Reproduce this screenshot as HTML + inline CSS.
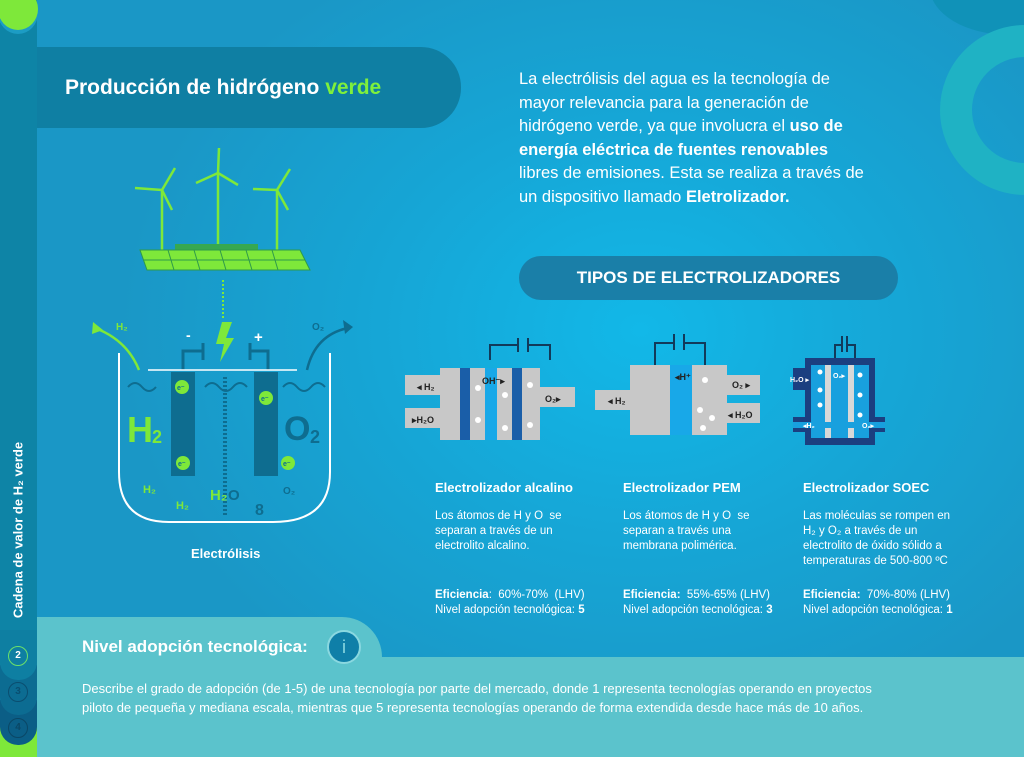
<!DOCTYPE html>
<html><head><meta charset="utf-8"><style>
*{margin:0;padding:0;box-sizing:border-box}
body{width:1024px;height:757px;overflow:hidden;position:relative;font-family:"Liberation Sans",sans-serif;color:#fff;
background:radial-gradient(ellipse 520px 420px at 640px 330px,#12b8e8 0%,#16a6d6 50%,#1a97c6 100%);}
.abs{position:absolute}
.b{font-weight:bold}
.sm{font-size:11.5px;line-height:15px}
</style></head><body>
<!-- top right shapes -->
<div class="abs" style="left:930px;top:-60px;width:160px;height:95px;border-radius:50%;background:#1092b8"></div>
<div class="abs" style="left:940px;top:25px;width:170px;height:170px;border-radius:50%;border:32px solid #1fb2c4"></div>
<!-- sidebar -->
<div class="abs" style="left:0;top:0;width:37px;height:757px;background:#0e84a6"></div>
<div class="abs" style="left:-2px;top:-12px;width:40px;height:42px;border-radius:50%;background:#7ee83a;box-shadow:0 4px 0 #1c9cc4"></div>
<div class="abs" style="left:0;top:725px;width:37px;height:32px;background:#7ee83a"></div>
<div class="abs" style="left:0;top:700px;width:37px;height:45px;border-radius:0 0 18px 18px;background:#0b5e86"></div>
<div class="abs" style="left:0;top:665px;width:37px;height:50px;border-radius:0 0 18px 18px;background:#0c6c92"></div>
<div class="abs" style="left:0;top:630px;width:37px;height:50px;border-radius:0 0 18px 18px;background:#0e7fa2"></div>
<div class="abs" style="left:8px;top:646px;width:20px;height:20px;border-radius:50%;border:1.5px solid #6be06a;font-size:10px;text-align:center;line-height:17px;font-weight:bold">2</div>
<div class="abs" style="left:8px;top:682px;width:20px;height:20px;border-radius:50%;border:1.5px solid #0a4e70;color:#0a4e70;font-size:10px;text-align:center;line-height:17px;font-weight:bold">3</div>
<div class="abs" style="left:8px;top:718px;width:20px;height:20px;border-radius:50%;border:1.5px solid #0a4766;color:#0a4766;font-size:10px;text-align:center;line-height:17px;font-weight:bold">4</div>
<div class="abs b" style="left:18px;top:530px;transform:translate(-50%,-50%) rotate(-90deg);white-space:nowrap;font-size:13px">Cadena de valor de H₂ verde</div>
<!-- title pill -->
<div class="abs" style="left:37px;top:47px;width:424px;height:81px;background:#0f7fa3;border-radius:0 40px 40px 0"></div>
<div class="abs b" style="left:65px;top:76px;font-size:21px">Producción de hidrógeno <span style="color:#7ef03c">verde</span></div>
<!-- right text -->
<div class="abs" style="left:519px;top:68px;width:420px;font-size:16.5px;line-height:23.5px;white-space:nowrap">La electrólisis del agua es la tecnología de<br>mayor relevancia para la generación de<br>hidrógeno verde, ya que involucra el <b>uso de</b><br><b>energía eléctrica de fuentes renovables</b><br>libres de emisiones. Esta se realiza a través de<br>un dispositivo llamado <b>Eletrolizador.</b></div>
<div class="abs b" style="left:519px;top:256px;width:379px;height:44px;border-radius:22px;background:#1a7fa8;text-align:center;line-height:44px;font-size:17px">TIPOS DE ELECTROLIZADORES</div>
<!-- left illustration -->
<svg class="abs" style="left:0;top:0" width="420" height="580">
 <g stroke="#7ee83a" stroke-width="2.5" fill="none">
  <line x1="162" y1="250" x2="162" y2="190"/><line x1="162" y1="190" x2="135" y2="188"/><line x1="162" y1="190" x2="175" y2="168"/><line x1="162" y1="190" x2="172" y2="210"/>
  <line x1="218" y1="245" x2="218" y2="173"/><line x1="218" y1="173" x2="196" y2="183"/><line x1="218" y1="173" x2="219" y2="148"/><line x1="218" y1="173" x2="238" y2="185"/>
  <line x1="277" y1="250" x2="277" y2="190"/><line x1="277" y1="190" x2="253" y2="189"/><line x1="277" y1="190" x2="290" y2="169"/><line x1="277" y1="190" x2="288" y2="210"/>
 </g>
 <polygon points="175,244 258,244 258,252 175,252" fill="#37a850"/>
 <polygon points="140,250 300,250 310,270 147,270" fill="#7ee83a" stroke="#2f9a4a" stroke-width="1"/>
 <g stroke="#2f9a4a" stroke-width="1"><line x1="168" y1="250" x2="174" y2="270"/><line x1="194" y1="250" x2="200" y2="270"/><line x1="220" y1="250" x2="226" y2="270"/><line x1="246" y1="250" x2="252" y2="270"/><line x1="272" y1="250" x2="278" y2="270"/><line x1="143" y1="260" x2="305" y2="260"/></g>
 <line x1="223" y1="280" x2="223" y2="318" stroke="#7ee83a" stroke-width="2" stroke-dasharray="2,2"/>
 <polygon points="222,322 232,322 226,338 234,338 220,362 224,344 216,344" fill="#7ee83a"/>
 <text x="186" y="340" font-size="14" font-weight="bold" fill="#fff">-</text><text x="254" y="342" font-size="15" font-weight="bold" fill="#fff">+</text>
 <path d="M183 370 V351 H203 M203 343 V360 M250 343 V360 M250 351 H268 V370" stroke="#0e6d90" stroke-width="3" fill="none"/>
 <line x1="148" y1="370" x2="297" y2="370" stroke="#fff" stroke-width="1.5"/>
 <path d="M119 353 V472 Q119 522 169 522 H273 Q330 522 330 472 V353" stroke="#fff" stroke-width="2" fill="none"/>
 <path d="M139 370 Q127 340 95 328" stroke="#7ee83a" stroke-width="2.5" fill="none"/><polygon points="93,322 103,330 92,334" fill="#7ee83a"/>
 <path d="M307 370 Q315 335 348 328" stroke="#0e6d90" stroke-width="2.5" fill="none"/><polygon points="353,327 343,320 345,334" fill="#0e6d90"/>
 <text x="116" y="330" font-size="10" font-weight="bold" fill="#7ee83a">H₂</text><text x="312" y="330" font-size="10" font-weight="bold" fill="#0e6d90">O₂</text>
 <rect x="171" y="372" width="24" height="104" fill="#0e6d90"/><rect x="254" y="372" width="24" height="104" fill="#0e6d90"/>
 <line x1="225" y1="377" x2="225" y2="517" stroke="#0e6d90" stroke-width="4" stroke-dasharray="2,2"/>
 <g stroke="#0e6d90" stroke-width="2" fill="none"><path d="M128 387 q7 -8 14 0 q7 8 14 0"/><path d="M205 387 q7 -8 14 0 q7 8 14 0 q7 -8 14 0"/><path d="M283 387 q7 -8 14 0 q7 8 14 0 q7 -8 14 0"/></g>
 <g fill="#7ee83a"><circle cx="182" cy="387" r="7"/><circle cx="266" cy="398" r="7"/><circle cx="183" cy="463" r="7"/><circle cx="288" cy="463" r="7"/></g>
 <g font-size="7" font-weight="bold" fill="#0e6d90"><text x="177" y="390">e⁻</text><text x="261" y="401">e⁻</text><text x="178" y="466">e⁻</text><text x="283" y="466">e⁻</text></g>
 <text x="127" y="442" font-size="36" font-weight="bold" fill="#7ee83a">H</text><text x="152" y="443" font-size="18" font-weight="bold" fill="#7ee83a">2</text>
 <text x="284" y="440" font-size="34" font-weight="bold" fill="#0e6d90">O</text><text x="310" y="443" font-size="18" font-weight="bold" fill="#0e6d90">2</text>
 <g font-size="11" font-weight="bold" fill="#7ee83a"><text x="143" y="493">H₂</text><text x="176" y="509">H₂</text><text x="210" y="500" font-size="15">H₂</text></g>
 <text x="228" y="500" font-size="15" font-weight="bold" fill="#0e6d90">O</text>
 <text x="283" y="494" font-size="10" font-weight="bold" fill="#0e6d90">O₂</text>
 <text x="255" y="515" font-size="16" font-weight="bold" fill="#0e6d90">8</text>
 <text x="191" y="558" font-size="13" font-weight="bold" fill="#fff">Electrólisis</text>
</svg>
<!-- electrolyzers -->
<svg class="abs" style="left:400px;top:320px" width="560" height="130" font-family="Liberation Sans" font-weight="bold">
 <path d="M90 40 V25 H118 M118 18 V32 M128 18 V32 M128 25 H150 V40" stroke="#123a5a" stroke-width="2" fill="none"/>
 <rect x="5" y="55" width="40" height="20" fill="#c8c8c8"/><rect x="5" y="88" width="40" height="20" fill="#c8c8c8"/>
 <rect x="40" y="48" width="100" height="72" fill="#c8c8c8"/><rect x="135" y="67" width="40" height="20" fill="#c8c8c8"/>
 <rect x="60" y="48" width="10" height="72" fill="#1a5ea8"/><rect x="112" y="48" width="10" height="72" fill="#1a5ea8"/><rect x="85" y="48" width="12" height="72" fill="#18a8e8"/>
 <text x="17" y="70" font-size="9" fill="#222">◂ H₂</text><text x="12" y="103" font-size="9" fill="#222">▸H₂O</text><text x="82" y="64" font-size="9" fill="#222">OH⁻▸</text><text x="145" y="82" font-size="9" fill="#222">O₂▸</text>
 <path d="M255 45 V23 H274 M274 14 V30 M284 14 V30 M284 23 H305 V45" stroke="#123a5a" stroke-width="2" fill="none"/>
 <rect x="195" y="70" width="40" height="20" fill="#c8c8c8"/><rect x="230" y="45" width="40" height="70" fill="#c8c8c8"/><rect x="270" y="45" width="22" height="70" fill="#18a8e8"/><rect x="292" y="45" width="35" height="70" fill="#c8c8c8"/>
 <rect x="320" y="55" width="40" height="20" fill="#c8c8c8"/><rect x="320" y="83" width="40" height="20" fill="#c8c8c8"/>
 <text x="208" y="84" font-size="9" fill="#222">◂ H₂</text><text x="275" y="60" font-size="9" fill="#222">◂H⁺</text><text x="332" y="68" font-size="9" fill="#222">O₂ ▸</text><text x="328" y="98" font-size="9" fill="#222">◂ H₂O</text>
 <g fill="#fff"><circle cx="78" cy="68" r="3"/><circle cx="105" cy="75" r="3"/><circle cx="130" cy="65" r="3"/><circle cx="78" cy="100" r="3"/><circle cx="105" cy="108" r="3"/><circle cx="130" cy="105" r="3"/><circle cx="305" cy="60" r="3"/><circle cx="300" cy="90" r="3"/><circle cx="312" cy="98" r="3"/><circle cx="303" cy="108" r="3"/></g>
 <path d="M435 38 V25 H442 M442 16 V32 M447 16 V32 M447 25 H455 V38" stroke="#123a5a" stroke-width="2" fill="none"/>
 <rect x="405" y="38" width="70" height="87" fill="#1b3f80"/><rect x="393" y="48" width="18" height="22" fill="#1b3f80"/><rect x="393" y="97" width="18" height="15" fill="#1b3f80"/><rect x="470" y="97" width="15" height="15" fill="#1b3f80"/>
 <rect x="411" y="45" width="58" height="73" fill="#18a0de"/><rect x="425" y="45" width="6" height="73" fill="#d8d8d8"/><rect x="448" y="45" width="6" height="73" fill="#d8d8d8"/>
 <rect x="393" y="102" width="92" height="6" fill="#18a0de"/>
 <text x="390" y="62" font-size="7" fill="#fff">H₂O ▸</text><text x="433" y="58" font-size="7" fill="#fff">O₂▸</text><text x="403" y="108" font-size="7" fill="#fff">◂H₂</text><text x="462" y="108" font-size="7" fill="#fff">O₂▸</text>
 <g fill="#fff"><circle cx="420" cy="52" r="2.5"/><circle cx="420" cy="70" r="2.5"/><circle cx="420" cy="85" r="2.5"/><circle cx="460" cy="55" r="2.5"/><circle cx="460" cy="75" r="2.5"/><circle cx="460" cy="95" r="2.5"/></g>
</svg>
<!-- type texts -->
<div class="abs" style="left:435px;top:480px;width:170px">
 <div class="b" style="font-size:13px">Electrolizador alcalino</div>
 <div class="sm" style="margin-top:14px">Los átomos de H y O &nbsp;se<br>separan a través de un<br>electrolito alcalino.</div>
 <div class="sm" style="margin-top:34px"><b>Eficiencia</b>: &nbsp;60%-70% &nbsp;(LHV)<br>Nivel adopción tecnológica: <b>5</b></div>
</div>
<div class="abs" style="left:623px;top:480px;width:170px">
 <div class="b" style="font-size:13px">Electrolizador PEM</div>
 <div class="sm" style="margin-top:14px">Los átomos de H y O &nbsp;se<br>separan a través una<br>membrana polimérica.</div>
 <div class="sm" style="margin-top:34px"><b>Eficiencia:</b> &nbsp;55%-65% (LHV)<br>Nivel adopción tecnológica: <b>3</b></div>
</div>
<div class="abs" style="left:803px;top:480px;width:180px">
 <div class="b" style="font-size:13px">Electrolizador SOEC</div>
 <div class="sm" style="margin-top:14px">Las moléculas se rompen en<br>H₂ y O₂ a través de un<br>electrolito de óxido sólido a<br>temperaturas de 500-800 ºC</div>
 <div class="sm" style="margin-top:19px"><b>Eficiencia:</b> &nbsp;70%-80% (LHV)<br>Nivel adopción tecnológica: <b>1</b></div>
</div>
<!-- bottom panel -->
<div class="abs" style="left:37px;top:617px;width:345px;height:140px;background:#5bc3cc;border-radius:0 40px 0 0"></div>
<div class="abs" style="left:37px;top:657px;width:987px;height:100px;background:#5bc3cc"></div>
<div class="abs b" style="left:82px;top:637px;font-size:17px">Nivel adopción tecnológica:</div>
<div class="abs" style="left:327px;top:630px;width:34px;height:34px;border-radius:50%;background:#0f7fa8;border:2px solid #8ad8e0;text-align:center;line-height:30px;font-size:18px;color:#8ad8e0">i</div>
<div class="abs" style="left:82px;top:679px;width:920px;font-size:13px;line-height:19px;white-space:nowrap">Describe el grado de adopción (de 1-5) de una tecnología por parte del mercado, donde 1 representa tecnologías operando en proyectos<br>piloto de pequeña y mediana escala, mientras que 5 representa tecnologías operando de forma extendida desde hace más de 10 años.</div>
</body></html>
